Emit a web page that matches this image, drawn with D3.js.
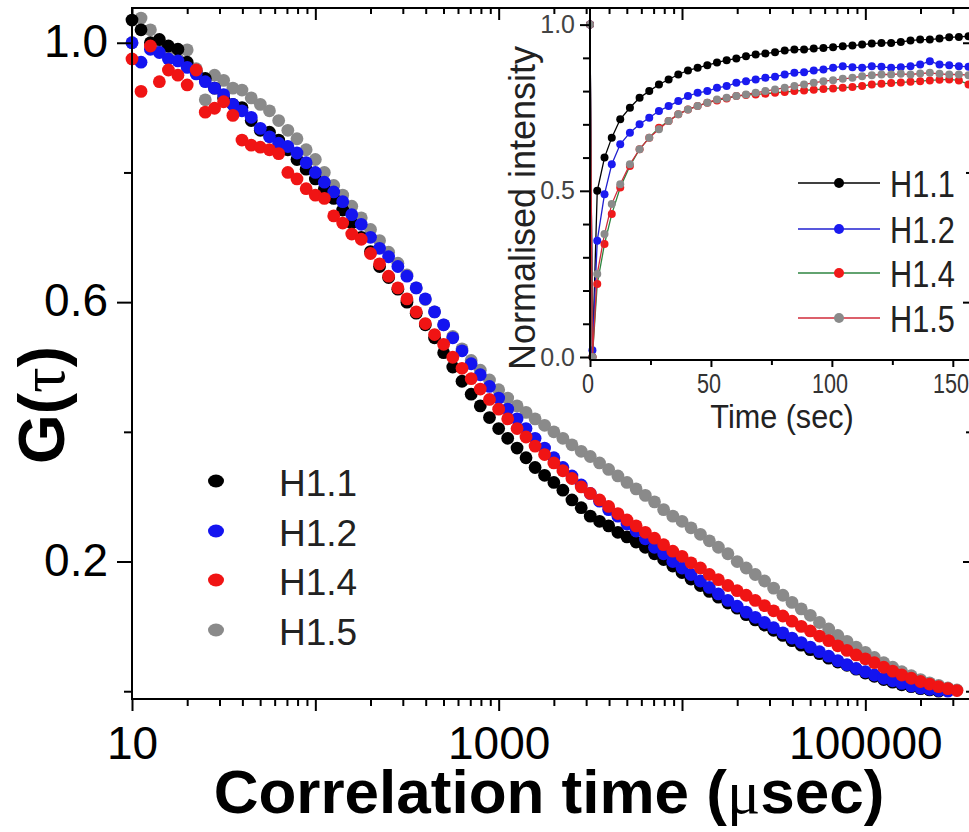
<!DOCTYPE html>
<html>
<head>
<meta charset="utf-8">
<script src="https://cdn.jsdelivr.net/npm/d3@7/dist/d3.min.js"></script>
<style>
  body { margin: 0; background: #fff; }
  text { font-family: "Liberation Sans", Arial, sans-serif; }
</style>
</head>
<body>
<div id="chart"></div>
<script>
// FCS autocorrelation curves (main) + FRAP recovery (inset)

// lag times in microseconds
const lagTimes = [
  10, 11.2, 12.6, 14.1, 15.8, 17.8, 20, 22.4, 25.1, 28.2, 31.6, 35.5, 39.8, 44.7, 50.1, 56.2, 63.1, 70.8, 79.4, 89.1,
  100, 112, 126, 141, 158, 178, 200, 224, 251, 282, 316, 355, 398, 447, 501, 562, 631, 708, 794, 891,
  1000, 1120, 1260, 1410, 1580, 1780, 2000, 2240, 2510, 2820, 3160, 3550, 3980, 4470, 5010, 5620, 6310, 7080, 7940, 8910,
  10000, 11200, 12600, 14100, 15800, 17800, 20000, 22400, 25100, 28200, 31600, 35500, 39800, 44700, 50100, 56200, 63100, 70800, 79400, 89100,
  100000, 112000, 126000, 141000, 158000, 178000, 200000, 224000, 251000, 282000, 316000
];

const seriesNames = ["H1.1", "H1.2", "H1.4", "H1.5"];

const gH11 = [
  1.035, 1.02, 1.0, 1.005, 0.995, 0.99, 0.97, 0.955, 0.945, 0.93, 0.915, 0.905, 0.9, 0.88, 0.865, 0.862, 0.85, 0.835, 0.82, 0.805,
  0.79, 0.775, 0.76, 0.742, 0.722, 0.7, 0.678, 0.655, 0.638, 0.62, 0.6, 0.583, 0.565, 0.545, 0.522, 0.5, 0.478, 0.458, 0.44, 0.422,
  0.405, 0.39, 0.375, 0.36, 0.345, 0.333, 0.322, 0.31, 0.295, 0.283, 0.27, 0.262, 0.255, 0.245, 0.238, 0.23, 0.222, 0.212, 0.203, 0.193,
  0.183, 0.173, 0.163, 0.154, 0.145, 0.136, 0.128, 0.118, 0.11, 0.102, 0.094, 0.086, 0.078, 0.071, 0.064, 0.058, 0.051, 0.045, 0.04, 0.034,
  0.028, 0.023, 0.018, 0.014, 0.01, 0.007, 0.004, 0.002, 0.0, null, null
];
const gH12 = [
  1.0, 0.97, 0.99, 0.985, 0.975, 0.972, 0.962, 0.952, 0.94, 0.93, 0.92, 0.905, 0.895, 0.885, 0.868, 0.855, 0.845, 0.84, 0.83, 0.815,
  0.8, 0.785, 0.77, 0.755, 0.735, 0.72, 0.7, 0.683, 0.67, 0.655, 0.64, 0.622, 0.605, 0.585, 0.565, 0.545, 0.525, 0.505, 0.488, 0.47,
  0.452, 0.435, 0.42, 0.405, 0.39, 0.375, 0.36, 0.345, 0.332, 0.318, 0.305, 0.293, 0.28, 0.27, 0.258, 0.247, 0.235, 0.222, 0.212, 0.2,
  0.19, 0.18, 0.17, 0.16, 0.15, 0.14, 0.131, 0.122, 0.114, 0.106, 0.098, 0.09, 0.082, 0.075, 0.068, 0.061, 0.054, 0.047, 0.041, 0.035,
  0.03, 0.025, 0.02, 0.016, 0.012, 0.008, 0.005, 0.003, 0.001, 0.0, null
];
const gH14 = [
  0.975, 0.925, 0.995, 0.94, 0.958, 0.95, 0.935, 0.958, 0.893, 0.899, 0.909, 0.888, 0.85, 0.842, 0.839, 0.835, 0.829, 0.8, 0.79, 0.775,
  0.765, 0.76, 0.733, 0.722, 0.705, 0.697, 0.675, 0.659, 0.64, 0.622, 0.605, 0.585, 0.567, 0.55, 0.535, 0.515, 0.498, 0.482, 0.466, 0.45,
  0.435, 0.42, 0.405, 0.392, 0.378, 0.365, 0.352, 0.34, 0.328, 0.315, 0.305, 0.295, 0.285, 0.274, 0.264, 0.255, 0.245, 0.236, 0.226, 0.216,
  0.208, 0.198, 0.19, 0.18, 0.172, 0.163, 0.155, 0.148, 0.14, 0.132, 0.124, 0.116, 0.108, 0.1, 0.093, 0.085, 0.078, 0.07, 0.063, 0.056,
  0.05, 0.044, 0.037, 0.031, 0.025, 0.02, 0.015, 0.011, 0.007, 0.004, 0.001
];
const gH15 = [
  1.0, 1.038, 1.02, 1.0, 0.99, 0.975, 0.989, 0.96, 0.912, 0.95, 0.942, 0.93, 0.927, 0.915, 0.905, 0.895, 0.88, 0.865, 0.852, 0.835,
  0.82, 0.8, 0.78, 0.765, 0.748, 0.73, 0.712, 0.695, 0.677, 0.66, 0.642, 0.622, 0.604, 0.585, 0.565, 0.547, 0.528, 0.51, 0.495, 0.48,
  0.465, 0.452, 0.44, 0.43, 0.42, 0.41, 0.4, 0.39, 0.38, 0.37, 0.362, 0.352, 0.342, 0.332, 0.322, 0.312, 0.302, 0.292, 0.28, 0.27,
  0.262, 0.252, 0.242, 0.232, 0.222, 0.212, 0.2, 0.19, 0.18, 0.17, 0.159, 0.148, 0.137, 0.127, 0.117, 0.106, 0.096, 0.086, 0.077, 0.068,
  0.06, 0.052, 0.044, 0.037, 0.03, 0.024, 0.018, 0.013, 0.009, 0.005, 0.002
];

// inset: recovery after bleach, time in seconds
const insetTimes = [
  0, 1, 3, 6, 9, 12.5, 16.5, 20.5, 24.5, 28.5, 32.5, 36.5, 40.5, 44.5, 48.5, 52.5, 56.5, 60.5, 64.5, 68.5, 72.5, 76.5,
  80.5, 84.5, 88.5, 92.5, 96.5, 100.5, 104.5, 108.5, 112.5, 116.5, 120.5, 124.5, 128.5, 132.5, 136.5, 140.5, 144.5, 148.5, 152.5, 156.5, 160.5
];
const recH11 = [
  1.0, 0.0, 0.5, 0.6, 0.66, 0.715, 0.75, 0.78, 0.8, 0.82, 0.835, 0.85, 0.862, 0.87, 0.878, 0.886, 0.893, 0.898, 0.905, 0.91, 0.913, 0.917,
  0.922, 0.925, 0.925, 0.928, 0.93, 0.932, 0.935, 0.937, 0.94, 0.943, 0.945, 0.945, 0.948, 0.952, 0.955, 0.955, 0.958, 0.962, 0.963, 0.965, 0.97
];
const recH12 = [
  1.0, 0.02, 0.35, 0.49, 0.58, 0.64, 0.675, 0.7, 0.72, 0.74, 0.755, 0.77, 0.785, 0.795, 0.8, 0.81, 0.815, 0.825, 0.83, 0.835, 0.84, 0.843,
  0.85, 0.855, 0.857, 0.862, 0.865, 0.87, 0.875, 0.872, 0.87, 0.875, 0.873, 0.87, 0.872, 0.875, 0.88, 0.89, 0.88, 0.878, 0.875, 0.873, 0.87
];
const recH14 = [
  1.0, 0.0, 0.22, 0.34, 0.43, 0.51, 0.575, 0.625, 0.66, 0.69, 0.71, 0.73, 0.745, 0.755, 0.765, 0.772, 0.778, 0.785, 0.788, 0.79, 0.792, 0.795,
  0.797, 0.8, 0.802, 0.804, 0.806, 0.808, 0.81, 0.812, 0.815, 0.82, 0.822, 0.824, 0.826, 0.828, 0.83, 0.832, 0.834, 0.835, 0.832, 0.82, 0.815
];
const recH15 = [
  1.0, 0.0, 0.25, 0.37, 0.46, 0.52, 0.58, 0.625, 0.66, 0.685, 0.71, 0.73, 0.745, 0.755, 0.765, 0.775, 0.78, 0.785, 0.79, 0.795, 0.8, 0.805,
  0.81, 0.815, 0.82, 0.825, 0.83, 0.833, 0.837, 0.84, 0.845, 0.848, 0.85, 0.85, 0.852, 0.85, 0.853, 0.855, 0.852, 0.85, 0.85, 0.848, 0.845
];

const xMajorTicks = [10, 100, 1000, 10000, 100000];
const xLabelTicks = [10, 1000, 100000];
const xMinorTicks = [20, 30, 40, 50, 60, 70, 80, 90, 200, 300, 400, 500, 600, 700, 800, 900,
  2000, 3000, 4000, 5000, 6000, 7000, 8000, 9000, 20000, 30000, 40000, 50000, 60000, 70000, 80000, 90000,
  200000, 300000];
const yMajorTicks = [0.2, 0.6, 1.0];
const yMinorTicks = [0.0, 0.4, 0.8];
const insetXTicks = [0, 50, 100, 150];
const insetXMinor = [25, 75, 125];
const insetYTicks = [0, 0.5, 1.0];
const insetYMinor = [0.1, 0.2, 0.3, 0.4, 0.6, 0.7, 0.8, 0.9];

const mainColors = ["#000000", "#1414f0", "#f01414", "#8a8a8a"];
const insetLineColors = ["#000000", "#2020d0", "#2e8540", "#d02b3a"];
const insetMarkColors = ["#000000", "#1a1af0", "#f01a1a", "#8a8a8a"];

const W = 969, H = 832;
const svg = d3.select("#chart").append("svg")
  .attr("width", W).attr("height", H)
  .style("background", "#fff");

const x = d3.scaleLog().domain([10, 377000]).range([132, 971]);
const y = d3.scaleLinear().domain([-0.012, 1.0536]).range([699, 8]);

// ---- main data
const mainSeries = [gH11, gH12, gH14, gH15].map((vals, i) => ({
  name: seriesNames[i],
  color: mainColors[i],
  points: lagTimes.map((t, j) => ({ t, g: vals[j] })).filter(d => d.g !== null)
}));

const drawOrder = [3, 0, 1, 2]; // grey under, red on top
drawOrder.forEach(i => {
  const s = mainSeries[i];
  svg.append("g").selectAll("circle")
    .data(s.points)
    .enter().append("circle")
    .attr("cx", d => x(d.t))
    .attr("cy", d => y(d.g))
    .attr("r", 6.4)
    .attr("fill", s.color);
});

// ---- inset
const xi = d3.scaleLinear().domain([0, 160]).range([590, 977]);
const yi = d3.scaleLinear().domain([-0.009, 1.05]).range([360, 8]);
const inset = svg.append("g");

[recH11, recH12, recH14, recH15].forEach((vals, i) => {
  const pts = insetTimes.map((t, j) => ({ t, v: vals[j] }));
  inset.append("path")
    .datum(pts)
    .attr("fill", "none")
    .attr("stroke", insetLineColors[i])
    .attr("stroke-width", 1.3)
    .attr("d", d3.line().x(d => xi(d.t)).y(d => yi(d.v)));
  inset.append("g").selectAll("circle")
    .data(pts)
    .enter().append("circle")
    .attr("cx", d => xi(d.t))
    .attr("cy", d => yi(d.v))
    .attr("r", 4)
    .attr("fill", insetMarkColors[i]);
});

function styleAxis(g) {
  g.select(".domain").remove();
  g.selectAll("line").attr("stroke", "#000").attr("stroke-width", 2);
}

// inset axes
inset.append("g").attr("transform", "translate(590,0)")
  .call(d3.axisLeft(yi).tickValues(insetYTicks).tickSize(10).tickPadding(5).tickFormat(d3.format(".1f")))
  .call(styleAxis)
  .call(g => g.selectAll("text").attr("font-size", 25).attr("fill", "#444")
    .attr("font-family", "Liberation Sans, Arial, sans-serif"));
inset.append("g").attr("transform", "translate(590,0)")
  .call(d3.axisLeft(yi).tickValues(insetYMinor).tickSize(7).tickFormat(""))
  .call(styleAxis);
inset.append("g").attr("transform", "translate(0,360)")
  .call(d3.axisBottom(xi).tickValues(insetXTicks).tickSize(7).tickPadding(7).tickFormat(d3.format("d")))
  .call(styleAxis)
  .call(g => g.selectAll("text").attr("font-size", 27).attr("fill", "#333")
    .attr("font-family", "Liberation Sans, Arial, sans-serif")
    .attr("x", -3)
    .attr("transform", "scale(0.8,1)"));
inset.append("g").attr("transform", "translate(0,360)")
  .call(d3.axisBottom(xi).tickValues(insetXMinor).tickSize(5).tickFormat(""))
  .call(styleAxis);
inset.append("line").attr("x1", 590).attr("x2", 590).attr("y1", 8).attr("y2", 360)
  .attr("stroke", "#000").attr("stroke-width", 2);
inset.append("line").attr("x1", 590).attr("x2", 977).attr("y1", 360).attr("y2", 360)
  .attr("stroke", "#000").attr("stroke-width", 2);

inset.append("text")
  .attr("transform", "translate(782,428) scale(0.9,1)")
  .attr("text-anchor", "middle")
  .attr("font-size", 34)
  .attr("fill", "#222")
  .text("Time (sec)");
inset.append("text")
  .attr("transform", "translate(535,208) rotate(-90)")
  .attr("text-anchor", "middle")
  .attr("font-size", 36)
  .attr("fill", "#222")
  .text("Normalised intensity");

// inset legend
const insetRows = [183, 229, 273, 318];
seriesNames.forEach((name, i) => {
  const ry = insetRows[i];
  inset.append("line").attr("x1", 798).attr("x2", 880).attr("y1", ry).attr("y2", ry)
    .attr("stroke", insetLineColors[i]).attr("stroke-width", 1.6);
  inset.append("circle").attr("cx", 839).attr("cy", ry).attr("r", 5)
    .attr("fill", insetMarkColors[i]);
  inset.append("text")
    .attr("transform", `translate(890,${ry + 14}) scale(0.83,1)`)
    .attr("font-size", 37)
    .attr("fill", "#222")
    .text(name);
});

// ---- main axes
const axes = svg.append("g");
axes.append("g").attr("transform", "translate(0,699)")
  .call(d3.axisBottom(x).tickValues(xMajorTicks).tickSize(12).tickPadding(15)
    .tickFormat(d => xLabelTicks.includes(d) ? String(d) : ""))
  .call(styleAxis)
  .call(g => g.selectAll("text").attr("font-size", 46).attr("fill", "#000")
    .attr("font-family", "Liberation Sans, Arial, sans-serif"));
axes.append("g").attr("transform", "translate(0,699)")
  .call(d3.axisBottom(x).tickValues(xMinorTicks).tickSize(7).tickFormat(""))
  .call(styleAxis);
// top axis, ticks pointing in
axes.append("g").attr("transform", "translate(0,8)")
  .call(d3.axisBottom(x).tickValues(xMajorTicks).tickSize(12).tickFormat(""))
  .call(styleAxis);
axes.append("g").attr("transform", "translate(0,8)")
  .call(d3.axisBottom(x).tickValues(xMinorTicks).tickSize(6).tickFormat(""))
  .call(styleAxis);
axes.append("g").attr("transform", "translate(132,0)")
  .call(d3.axisLeft(y).tickValues(yMajorTicks).tickSize(15).tickPadding(9).tickFormat(d3.format(".1f")))
  .call(styleAxis)
  .call(g => g.selectAll("text").attr("font-size", 46).attr("fill", "#000").attr("dy", "0.3em")
    .attr("font-family", "Liberation Sans, Arial, sans-serif"));
axes.append("g").attr("transform", "translate(132,0)")
  .call(d3.axisLeft(y).tickValues(yMinorTicks).tickSize(8).tickFormat(""))
  .call(styleAxis);
// right axis, ticks pointing in
axes.append("g").attr("transform", "translate(971,0)")
  .call(d3.axisLeft(y).tickValues(yMajorTicks).tickSize(8).tickFormat(""))
  .call(styleAxis);
axes.append("g").attr("transform", "translate(971,0)")
  .call(d3.axisLeft(y).tickValues(yMinorTicks).tickSize(5).tickFormat(""))
  .call(styleAxis);
axes.append("rect")
  .attr("x", 132).attr("y", 8).attr("width", 971 - 132).attr("height", 699 - 8)
  .attr("fill", "none").attr("stroke", "#000").attr("stroke-width", 2);

// axis titles
const xTitle = svg.append("text")
  .attr("x", 549).attr("y", 813)
  .attr("text-anchor", "middle")
  .attr("font-size", 62)
  .attr("font-weight", "bold")
  .attr("fill", "#000");
xTitle.append("tspan").text("Correlation time (");
xTitle.append("tspan").attr("font-family", "Liberation Serif, serif").attr("font-weight", "normal").text("\u03bc");
xTitle.append("tspan").text("sec)");

const yTitle = svg.append("text")
  .attr("transform", "translate(64,405) rotate(-90)")
  .attr("text-anchor", "middle")
  .attr("font-size", 64)
  .attr("font-weight", "bold")
  .attr("fill", "#000");
yTitle.append("tspan").text("G(");
yTitle.append("tspan").attr("font-family", "Liberation Serif, serif").attr("font-weight", "normal").text("\u03c4");
yTitle.append("tspan").text(")");

// ---- main legend
const legendRows = [481, 531, 580, 630];
seriesNames.forEach((name, i) => {
  svg.append("ellipse")
    .attr("cx", 216).attr("cy", legendRows[i])
    .attr("rx", 8).attr("ry", 6.5)
    .attr("fill", mainColors[i]);
  svg.append("text")
    .attr("x", 279).attr("y", legendRows[i] + 15)
    .attr("font-size", 37)
    .attr("fill", "#222")
    .text(name);
});
</script>
</body>
</html>
